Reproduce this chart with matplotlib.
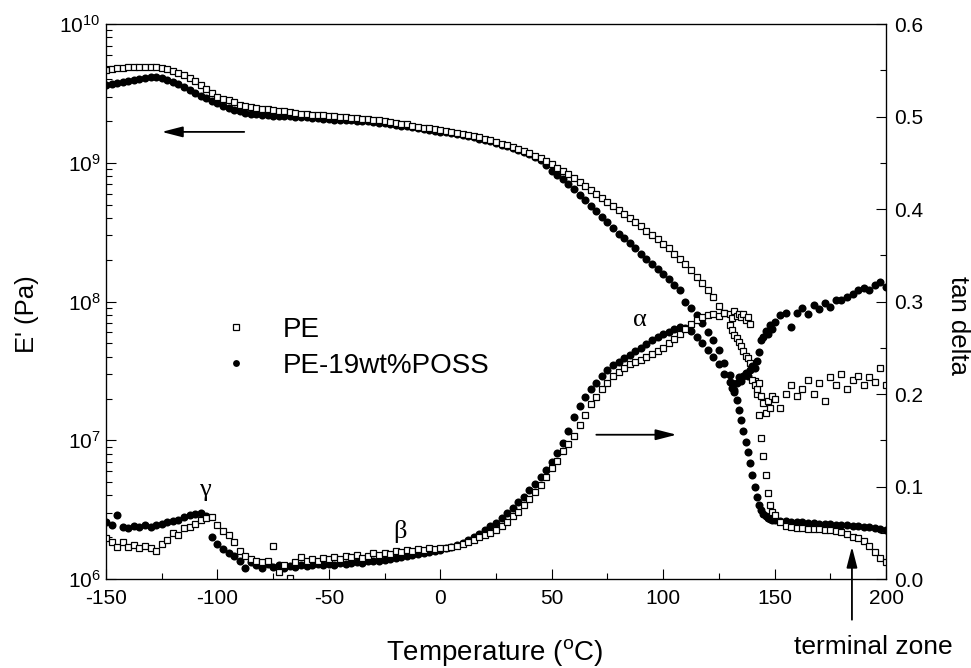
import numpy as np
import matplotlib
matplotlib.use("Agg")
import matplotlib.pyplot as plt
from matplotlib.ticker import MultipleLocator, FormatStrFormatter, LogLocator

plt.rcParams['font.family'] = ['Liberation Sans', 'DejaVu Sans']
plt.rcParams['mathtext.fontset'] = 'custom'
plt.rcParams['mathtext.rm'] = 'Liberation Sans'
plt.rcParams['mathtext.it'] = 'Liberation Sans:italic'
plt.rcParams['mathtext.bf'] = 'Liberation Sans:bold'
plt.rcParams['axes.unicode_minus'] = False

# temperature steps of the scan (deg C): coarse, fine through the melt, coarse again
T = np.concatenate([np.arange(-150, 130, 2.5),
                    np.arange(130, 150, 1.0),
                    np.arange(150, 200.1, 2.5)])

# log10 of storage modulus E' (Pa)
logE_pe = [
    9.668, 9.675, 9.680, 9.685, 9.690, 9.690, 9.692, 9.692,   # -150
    9.690, 9.688, 9.685, 9.675, 9.660, 9.645, 9.630, 9.610,   # -130
    9.590, 9.560, 9.530, 9.500, 9.475, 9.460, 9.450, 9.435,   # -110
    9.420, 9.410, 9.400, 9.395, 9.390, 9.385, 9.380, 9.375,   # -90
    9.370, 9.365, 9.360, 9.355, 9.350, 9.348, 9.345, 9.342,   # -70
    9.340, 9.336, 9.332, 9.328, 9.325, 9.321, 9.318, 9.314,   # -50
    9.310, 9.305, 9.300, 9.295, 9.290, 9.283, 9.276, 9.268,   # -30
    9.260, 9.254, 9.248, 9.241, 9.235, 9.229, 9.223, 9.216,   # -10
    9.210, 9.201, 9.193, 9.184, 9.175, 9.163, 9.151, 9.138,   # 10
    9.125, 9.112, 9.100, 9.085, 9.068, 9.052, 9.035, 9.012,   # 30
    8.990, 8.965, 8.943, 8.920, 8.890, 8.860, 8.835, 8.805,   # 50
    8.775, 8.745, 8.715, 8.685, 8.660, 8.630, 8.605, 8.575,   # 70
    8.545, 8.510, 8.480, 8.450, 8.415, 8.385, 8.345, 8.310,   # 90
    8.270, 8.225, 8.180, 8.135, 8.085, 8.030, 7.970, 7.920,   # 110
    7.830, 7.795, 7.760, 7.740, 7.710, 7.680, 7.640, 7.610, 7.590, 7.560,   # 130
    7.520, 7.430, 7.330, 7.180, 7.020, 6.890, 6.750, 6.620, 6.530, 6.480,   # 140
    6.460, 6.410, 6.380, 6.372, 6.368, 6.366, 6.364, 6.362, 6.360, 6.356,   # 150
    6.352, 6.346, 6.339, 6.325, 6.303, 6.298, 6.275, 6.235, 6.195, 6.155,   # 175
    6.123]

logE_poss = [
    9.560, 9.568, 9.575, 9.582, 9.590, 9.598, 9.605, 9.610,
    9.615, 9.615, 9.610, 9.598, 9.585, 9.566, 9.546, 9.525,
    9.505, 9.485, 9.465, 9.448, 9.430, 9.412, 9.395, 9.382,
    9.370, 9.362, 9.355, 9.350, 9.345, 9.342, 9.340, 9.338,
    9.335, 9.334, 9.333, 9.331, 9.330, 9.326, 9.322, 9.318,
    9.315, 9.312, 9.310, 9.307, 9.305, 9.303, 9.300, 9.298,
    9.295, 9.290, 9.285, 9.280, 9.275, 9.268, 9.262, 9.256,
    9.250, 9.244, 9.238, 9.231, 9.225, 9.219, 9.213, 9.206,
    9.200, 9.191, 9.183, 9.174, 9.165, 9.154, 9.142, 9.130,
    9.118, 9.105, 9.092, 9.078, 9.062, 9.045, 9.020, 8.985,
    8.940, 8.910, 8.880, 8.850, 8.810, 8.770, 8.730, 8.690,
    8.650, 8.610, 8.570, 8.530, 8.490, 8.455, 8.420, 8.385,
    8.345, 8.310, 8.270, 8.235, 8.200, 8.165, 8.120, 8.080,
    8.000, 7.955, 7.900, 7.845, 7.780, 7.720, 7.650, 7.560,
    7.470, 7.410, 7.350, 7.290, 7.220, 7.146, 7.070, 6.990, 6.915, 6.836,
    6.750, 6.660, 6.590, 6.530, 6.500, 6.470, 6.455, 6.440, 6.434, 6.427,
    6.425, 6.420, 6.415, 6.412, 6.410, 6.408, 6.405, 6.403, 6.400, 6.398,
    6.395, 6.392, 6.390, 6.387, 6.384, 6.380, 6.376, 6.372, 6.367, 6.362,
    6.356]

# tan delta
tan_pe = [
    0.044, 0.040, 0.035, 0.040, 0.035, 0.037, 0.034, 0.036,
    0.033, 0.030, 0.038, 0.042, 0.050, 0.048, 0.055, 0.056,
    0.060, 0.064, 0.066, 0.067, 0.058, 0.052, 0.048, 0.040,
    0.030, 0.025, 0.022, 0.020, 0.018, 0.020, 0.036, 0.008,
    0.015, 0.001, 0.018, 0.024, 0.020, 0.022, 0.020, 0.023,
    0.022, 0.024, 0.022, 0.025, 0.024, 0.026, 0.023, 0.025,
    0.028, 0.026, 0.028, 0.027, 0.030, 0.029, 0.031, 0.030,
    0.032, 0.031, 0.033, 0.032, 0.033, 0.034, 0.035, 0.036,
    0.038, 0.040, 0.042, 0.045, 0.048, 0.050, 0.053, 0.057,
    0.062, 0.068, 0.072, 0.080, 0.086, 0.094, 0.102, 0.110,
    0.120, 0.128, 0.138, 0.146, 0.155, 0.166, 0.177, 0.189,
    0.197, 0.205, 0.212, 0.219, 0.224, 0.228, 0.232, 0.235,
    0.237, 0.240, 0.243, 0.247, 0.250, 0.255, 0.260, 0.265,
    0.270, 0.276, 0.280, 0.283, 0.285, 0.287, 0.284, 0.288,
    0.286, 0.282, 0.290, 0.284, 0.287, 0.283, 0.286, 0.280, 0.283, 0.276,
    0.215, 0.210, 0.205, 0.212, 0.198, 0.190, 0.180, 0.193, 0.185, 0.198,
    0.195, 0.185, 0.200, 0.210, 0.198, 0.205, 0.215, 0.200, 0.212, 0.193,
    0.218, 0.210, 0.222, 0.205, 0.215, 0.220, 0.210, 0.218, 0.213, 0.228,
    0.210]

tan_poss = [
    0.062, 0.058, 0.069, 0.056, 0.055, 0.057, 0.056, 0.058,
    0.056, 0.058, 0.060, 0.062, 0.063, 0.064, 0.067, 0.069,
    0.070, 0.071, 0.068, 0.045, 0.038, 0.032, 0.028, 0.025,
    0.020, 0.012, 0.018, 0.015, 0.012, 0.016, 0.013, 0.015,
    0.012, 0.014, 0.013, 0.015, 0.014, 0.015, 0.016, 0.015,
    0.016, 0.015, 0.017, 0.016, 0.017, 0.018, 0.017, 0.019,
    0.019, 0.020, 0.021, 0.022, 0.023, 0.024, 0.025, 0.026,
    0.027, 0.028, 0.029, 0.030, 0.031, 0.033, 0.035, 0.037,
    0.039, 0.042, 0.045, 0.049, 0.053, 0.057, 0.061, 0.066,
    0.071, 0.077, 0.083, 0.089, 0.096, 0.103, 0.110, 0.118,
    0.126, 0.136, 0.147, 0.160, 0.175, 0.187, 0.197, 0.205,
    0.212, 0.220, 0.226, 0.231, 0.235, 0.239, 0.242, 0.246,
    0.250, 0.254, 0.258, 0.262, 0.265, 0.267, 0.270, 0.272,
    0.271, 0.268, 0.262, 0.255, 0.248, 0.240, 0.232, 0.222,
    0.213, 0.207, 0.204, 0.212, 0.218, 0.214, 0.220, 0.223, 0.219, 0.226,
    0.230, 0.228, 0.236, 0.245, 0.258, 0.262, 0.268, 0.265, 0.275, 0.270,
    0.278, 0.285, 0.288, 0.272, 0.288, 0.293, 0.286, 0.296, 0.292, 0.298,
    0.294, 0.302, 0.302, 0.305, 0.308, 0.312, 0.315, 0.313, 0.318, 0.321,
    0.316]

labels = ['PE', 'PE-19wt%POSS']

fig = plt.figure(figsize=(9.71, 6.68), dpi=100)
ax = fig.add_axes([0.1092, 0.1332, 0.8033, 0.8308])
ax2 = ax.twinx()

sq = dict(marker='s', ls='none', ms=4.8, mfc='white', mec='black', mew=0.9)
ci = dict(marker='o', ls='none', ms=5.8, color='black', mew=0)

h_poss, = ax.plot(T, 10 ** np.array(logE_poss), **ci)
h_pe, = ax.plot(T, 10 ** np.array(logE_pe), **sq)
ax2.plot(T, tan_poss, **ci)
ax2.plot(T, tan_pe, **sq)

ax.set_yscale('log')
ax.set_xlim(-150, 200)
ax.set_ylim(1e6, 1e10)
ax2.set_ylim(0, 0.6)

ax.xaxis.set_major_locator(MultipleLocator(50))
ax.xaxis.set_minor_locator(MultipleLocator(25))
ax.yaxis.set_major_locator(LogLocator(base=10, numticks=10))
ax.yaxis.set_minor_locator(LogLocator(base=10, subs=np.arange(2, 10), numticks=10))
ax2.yaxis.set_major_locator(MultipleLocator(0.1))
ax2.yaxis.set_minor_locator(MultipleLocator(0.05))
ax2.yaxis.set_major_formatter(FormatStrFormatter('%.1f'))

ax.tick_params(which='both', direction='in', top=False, right=False, labelsize=15)
ax.tick_params(axis='x', which='major', pad=7)
ax.tick_params(axis='y', which='major', pad=4)
ax.tick_params(which='major', length=7, width=0.8)
ax.tick_params(which='minor', length=4, width=0.8)
ax2.tick_params(which='both', direction='in', labelsize=15, pad=6)
ax2.tick_params(which='major', length=7, width=0.8)
ax2.tick_params(which='minor', length=4, width=0.8)
for s in ax.spines.values():
    s.set_linewidth(0.9)

fig.text(27 / 971, 1 - 314 / 668, "E' (Pa)", rotation=90, ha='center', va='center', fontsize=18.5)
fig.text(958 / 971, 1 - 325 / 668, 'tan delta', rotation=270, ha='center', va='center', fontsize=18.5)
fig.text(495 / 971, 1 - 652 / 668, r'Temperature ($\mathregular{^o}$C)', ha='center', va='center', fontsize=20)

leg = ax.legend([h_pe, h_poss], labels, loc='upper left', bbox_to_anchor=(0.131, 0.497),
                frameon=False, fontsize=20, handlelength=1.0, handletextpad=1.2,
                borderpad=0, labelspacing=0.35, markerscale=0.85)

arrow = dict(arrowstyle='-|>,head_length=0.7,head_width=0.18', color='black', lw=1.3,
             mutation_scale=18, shrinkA=0, shrinkB=0)
ax.annotate('', xy=(-125, 1.67e9), xytext=(-88, 1.67e9), arrowprops=arrow)
ax2.annotate('', xy=(106, 0.156), xytext=(70, 0.156), arrowprops=arrow)
ax2.annotate('', xy=(184.7, 0.035), xytext=(184.7, -0.044), arrowprops=arrow,
             annotation_clip=False)
ax2.text(194.2, -0.073, 'terminal zone', ha='center', va='center', fontsize=19, clip_on=False)

greek = dict(ha='center', va='center', fontsize=19, family=['Liberation Serif', 'DejaVu Serif'])
ax2.text(-105.6, 0.096, '\u03b3', **greek)
ax2.text(-18, 0.051, '\u03b2', **greek)
ax2.text(89.6, 0.28, '\u03b1', **greek)

fig.savefig('out.png', dpi=100)
